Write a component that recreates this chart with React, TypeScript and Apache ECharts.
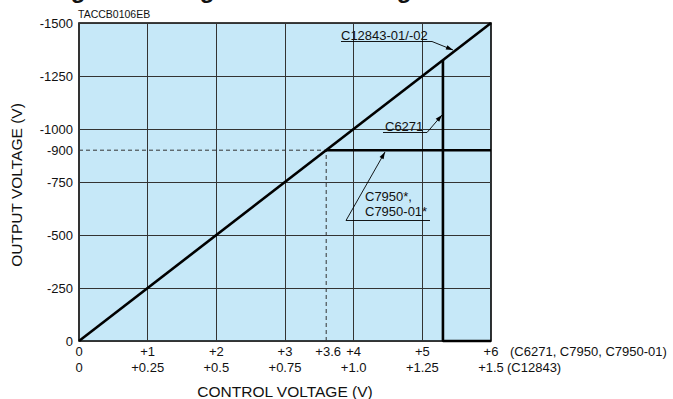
import React, { useEffect, useRef } from "react";
import * as echarts from "echarts";

// ---- data ----
const xTickValues = [0, 1, 2, 3, 4, 5, 6];
const xTickLabelsTop = ["0", "+1", "+2", "+3", "+4", "+5", "+6"];
const xTickLabelsBottom = ["0", "+0.25", "+0.5", "+0.75", "+1.0", "+1.25", "+1.5"];
const yTickValues = [-1500, -1250, -1000, -750, -500, -250, 0];
const extraXTick = 3.6;
const extraXTickLabel = "+3.6";
const extraYTick = -900;
const extraYTickLabel = "-900";
const topRowSuffix = "(C6271, C7950, C7950-01)";
const bottomRowSuffix = "(C12843)";

const c12843Line = [
  [0, 0],
  [6, -1500],
];
const c6271Line = [
  [5.3, -1325],
  [5.3, 0],
  [6, 0],
];
const c7950Line = [
  [3.6, -900],
  [6, -900],
];
const guideLine = [
  [0, -900],
  [3.6, -900],
  [3.6, 0],
];

const FONT = "'Liberation Sans', Arial, Helvetica, sans-serif";
const TXT = "#111";

function arrowHead(x1: number, y1: number, x2: number, y2: number, len = 7, w = 2.3) {
  const dx = x2 - x1;
  const dy = y2 - y1;
  const d = Math.sqrt(dx * dx + dy * dy);
  const ux = dx / d;
  const uy = dy / d;
  const px = -uy;
  const py = ux;
  return [
    [x2, y2],
    [x2 - ux * len + px * w, y2 - uy * len + py * w],
    [x2 - ux * len - px * w, y2 - uy * len - py * w],
  ];
}

function leader(points: number[][]) {
  const n = points.length;
  const a = points[n - 2];
  const b = points[n - 1];
  return [
    {
      type: "polyline",
      shape: { points },
      style: { stroke: "#000", lineWidth: 0.9, fill: null },
      z: 20,
    },
    {
      type: "polygon",
      shape: { points: arrowHead(a[0], a[1], b[0], b[1]) },
      style: { fill: "#000", stroke: null },
      z: 20,
    },
  ];
}

function txt(text: string, x: number, y: number, opts: any = {}) {
  return {
    type: "text",
    x,
    y,
    rotation: opts.rotation || 0,
    z: 20,
    style: {
      text,
      fill: TXT,
      font: `${opts.weight || "normal"} ${opts.size || 13}px ${FONT}`,
      align: opts.align || "left",
      verticalAlign: "middle",
    },
  };
}

export default function App() {
  const ref = useRef<HTMLDivElement>(null);

  useEffect(() => {
    if (!ref.current) return;
    const chart = echarts.init(ref.current, null, { renderer: "svg" });
    const lineSeries = (data: number[][], width: number, dashed = false) => ({
      type: "line",
      data,
      showSymbol: false,
      symbol: "none",
      clip: false,
      silent: true,
      z: dashed ? 3 : 5,
      lineStyle: {
        color: dashed ? "#333" : "#000",
        width,
        type: dashed ? [4, 3] : "solid",
      },
    });

    chart.setOption({
      animation: false,
      grid: {
        left: 79,
        top: 23,
        width: 412,
        height: 318,
        show: true,
        backgroundColor: "#c6e8f8",
        borderColor: "#000",
        borderWidth: 1.6,
        z: 0,
      },
      xAxis: {
        type: "value",
        min: 0,
        max: 6,
        interval: 1,
        axisLine: { show: false },
        axisTick: { show: false },
        splitLine: { show: true, lineStyle: { color: "#333", width: 1 } },
        axisLabel: {
          margin: 2,
          fontSize: 13,
          lineHeight: 16,
          color: TXT,
          fontFamily: FONT,
          formatter: (v: number) => {
            const i = xTickValues.indexOf(Math.round(v));
            return i >= 0 ? `${xTickLabelsTop[i]}\n${xTickLabelsBottom[i]}` : "";
          },
        },
      },
      yAxis: {
        type: "value",
        min: -1500,
        max: 0,
        interval: 250,
        inverse: true,
        axisLine: { show: false },
        axisTick: { show: false },
        splitLine: { show: true, lineStyle: { color: "#333", width: 1 } },
        axisLabel: {
          margin: 6,
          fontSize: 13,
          color: TXT,
          fontFamily: FONT,
          formatter: (v: number) => (yTickValues.indexOf(v) >= 0 ? String(v) : ""),
        },
      },
      series: [
        lineSeries(guideLine, 1, true),
        lineSeries(c12843Line, 2.6),
        lineSeries(c6271Line, 2.6),
        lineSeries(c7950Line, 2.6),
      ],
    });

    const px = (x: number, y: number) => chart.convertToPixel({ gridIndex: 0 }, [x, y]) as number[];
    const p36 = px(extraXTick, 0);
    const p900 = px(0, extraYTick);
    const p6 = px(6, 0);

    const graphic: any[] = [
      // cut-off title descenders
      txt("g", 78, -11, { size: 24, weight: "bold", align: "center" }),
      txt("g", 207, -11, { size: 24, weight: "bold", align: "center" }),
      txt("g", 404, -11, { size: 24, weight: "bold", align: "center" }),
      txt("TACCB0106EB", 78, 14, { size: 10.5 }),
      txt(extraYTickLabel, p900[0] - 6, p900[1], { align: "right" }),
      txt(extraXTickLabel, p36[0] + 2, p36[1] + 10, { align: "center" }),
      txt(topRowSuffix, p6[0] + 19, p6[1] + 10),
      txt(bottomRowSuffix, p6[0] + 16, p6[1] + 26),
      txt("OUTPUT VOLTAGE (V)", 16, 185, { size: 15.5, align: "center", rotation: Math.PI / 2 }),
      txt("CONTROL VOLTAGE (V)", 285, 391, { size: 15.5, align: "center" }),
      // annotations
      txt("C12843-01/-02", 341, 35),
      ...leader([
        [341, 41.5],
        [432, 41.5],
        [453, 50],
      ]),
      txt("C6271", 385, 126),
      ...leader([
        [383, 132.5],
        [427, 132.5],
        [442, 115],
      ]),
      txt("C7950*,", 365, 196),
      txt("C7950-01*", 365, 211),
      ...leader([
        [430, 220.5],
        [346, 220.5],
        [385, 152],
      ]),
    ];
    chart.setOption({ graphic });

    return () => chart.dispose();
  }, []);

  return (
    <div
      ref={ref}
      style={{ position: "fixed", left: 0, top: 0, width: 673, height: 399, background: "#fff" }}
    />
  );
}
